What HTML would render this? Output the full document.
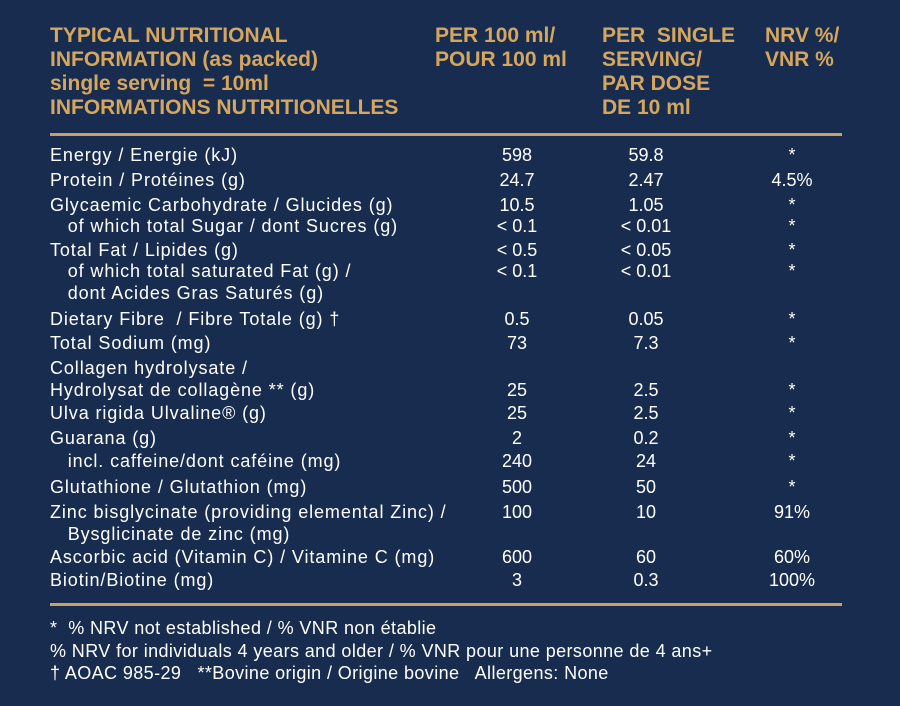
<!DOCTYPE html>
<html><head><meta charset="utf-8">
<style>
body{margin:0;width:900px;height:706px;background:#182c4f;overflow:hidden;position:relative;font-family:"Liberation Sans",sans-serif;}
.h{position:absolute;color:#d5a65e;font-weight:bold;font-size:21px;line-height:24px;white-space:nowrap;}
.t{position:absolute;color:#fff;font-size:18px;letter-spacing:0.9px;line-height:22px;white-space:nowrap;}
.c{transform:translateX(-50%);}
.rule{position:absolute;left:50px;width:792px;height:3px;background:#c9a066;}
</style></head><body>
<div class="h" style="left:50px;top:24px">TYPICAL NUTRITIONAL<br>INFORMATION (as packed)<br>single serving &nbsp;= 10ml<br>INFORMATIONS NUTRITIONELLES</div>
<div class="h" style="left:435px;top:24px">PER 100 ml/<br>POUR 100 ml</div>
<div class="h" style="left:602px;top:24px">PER &nbsp;SINGLE<br>SERVING/<br>PAR DOSE<br>DE 10 ml</div>
<div class="h" style="left:765px;top:24px">NRV %/<br>VNR %</div>
<div class="rule" style="top:133px"></div>
<div id="rows"></div>
<div class="rule" style="top:603px"></div>
<div class="t" style="left:50px;top:617px;line-height:22.5px;font-size:18px;letter-spacing:0.4px">*&nbsp; % NRV not established / % VNR non établie<br>% NRV for individuals 4 years and older / % VNR pour une personne de 4 ans+<br>† AOAC 985-29 &nbsp; **Bovine origin / Origine bovine &nbsp; Allergens: None</div>
<script>
const labels=["Energy / Energie (kJ)","Protein / Protéines (g)","Glycaemic Carbohydrate / Glucides (g)","&nbsp;&nbsp; of which total Sugar / dont Sucres (g)","Total Fat / Lipides (g)","&nbsp;&nbsp; of which total saturated Fat (g) /","&nbsp;&nbsp; dont Acides Gras Saturés (g)","Dietary Fibre &nbsp;/ Fibre Totale (g) †","Total Sodium (mg)","Collagen hydrolysate /","Hydrolysat de collagène ** (g)","Ulva rigida Ulvaline® (g)","Guarana (g)","&nbsp;&nbsp; incl. caffeine/dont caféine (mg)","Glutathione / Glutathion (mg)","Zinc bisglycinate (providing elemental Zinc) /","&nbsp;&nbsp; Bysglicinate de zinc (mg)","Ascorbic acid (Vitamin C) / Vitamine C (mg)","Biotin/Biotine (mg)"];
const per100=["598","24.7","10.5","&lt; 0.1","&lt; 0.5","&lt; 0.1","","0.5","73","","25","25","2","240","500","100","","600","3"];
const perServing=["59.8","2.47","1.05","&lt; 0.01","&lt; 0.05","&lt; 0.01","","0.05","7.3","","2.5","2.5","0.2","24","50","10","","60","0.3"];
const nrv=["*","4.5%","*","*","*","*","","*","*","","*","*","*","*","*","91%","","60%","100%"];
const ys=[155,180,205,226,250,271,293,319,343,368,390,413,438,461,487,512,534,557,580];
const rows=document.getElementById('rows');
function add(html,left,y,center,name){
  const d=document.createElement('div');
  d.className='t'+(center?' c':'');
  d.style.left=left+'px';d.style.top=(y-11)+'px';
  if(center){d.style.letterSpacing='0px';}
  d.innerHTML=html;
  
  
  rows.appendChild(d);
}
labels.forEach((l,i)=>{
  add(l,50,ys[i],false,'nutrient-label');
  if(per100[i])add(per100[i],517,ys[i],true,'per-100ml-value');
  if(perServing[i])add(perServing[i],646,ys[i],true,'per-serving-value');
  if(nrv[i])add(nrv[i],792,ys[i],true,'nrv-value');
});
</script>
</body></html>
